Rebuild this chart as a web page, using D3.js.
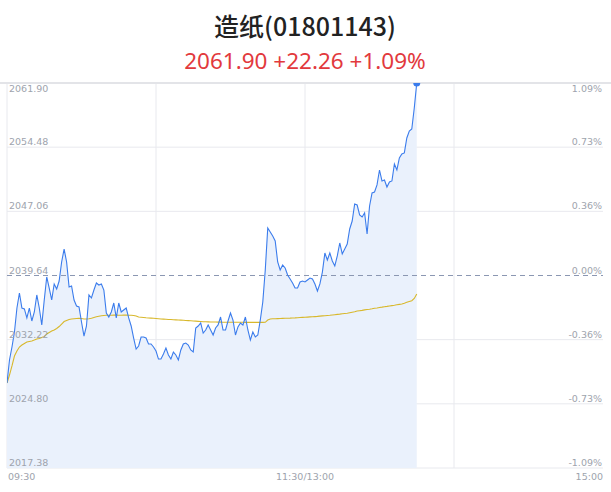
<!DOCTYPE html>
<html>
<head>
<meta charset="utf-8">
<script src="https://cdn.jsdelivr.net/npm/d3@7"></script>
<style>
  html, body { margin: 0; padding: 0; background: #fff; }
  svg { display: block; }
</style>
</head>
<body>
<svg id="chart" width="611" height="492"></svg>
<script>
// Title texts
const titleText = '造纸(01801143)';
const quoteText = '2061.90 +22.26 +1.09%';

// Price scale
const prevClose = 2039.64;
const priceTicks = [2061.90, 2054.48, 2047.06, 2039.64, 2032.22, 2024.80, 2017.38];
const pctTicks = ['1.09%', '0.73%', '0.36%', '0.00%', '-0.36%', '-0.73%', '-1.09%'];

// Time axis (minutes since 09:30, lunch break removed)
const totalMinutes = 240;
const timeTicks = [0, 120, 240];
const timeLabels = ['09:30', '11:30/13:00', '15:00'];
const gridMinutes = [0, 60, 120, 180];

// Minute prices
const prices = [
  2027.21, 2029.87, 2031.37, 2033.11, 2035.88, 2037.62, 2035.88, 2035.77, 2034.73, 2035.88,
  2034.38, 2035.42, 2037.39, 2035.88, 2033.92, 2036.81, 2039.47, 2038.19, 2036.81, 2038.66,
  2038.08, 2039.00, 2041.20, 2042.70, 2041.20, 2038.31, 2038.43, 2036.81, 2036.11, 2036.00,
  2034.26, 2032.64, 2033.80, 2037.39, 2037.04, 2037.96, 2038.77, 2038.54, 2038.66, 2037.96,
  2035.30, 2034.84, 2035.42, 2036.46, 2034.73, 2036.46, 2035.42, 2035.65, 2035.88, 2034.73,
  2033.80, 2032.41, 2031.14, 2031.49, 2032.53, 2032.53, 2032.41, 2031.72, 2031.72, 2031.37,
  2030.91, 2029.98, 2029.98, 2030.56, 2031.26, 2030.45, 2029.98, 2030.79, 2030.45, 2029.87,
  2031.03, 2031.72, 2031.83, 2031.60, 2031.03, 2030.79, 2033.57, 2033.80, 2034.15, 2032.99,
  2033.34, 2033.92, 2033.34, 2032.76, 2033.57, 2033.92, 2034.84, 2033.34, 2033.34, 2034.38,
  2035.30, 2034.49, 2032.76, 2033.69, 2034.15, 2033.92, 2034.84, 2033.34, 2032.18, 2033.11,
  2032.53, 2032.76, 2034.49, 2036.58, 2040.28, 2045.13, 2044.67, 2044.21, 2043.63, 2041.20,
  2040.28, 2040.85, 2040.51, 2039.70, 2039.24, 2038.77, 2038.19, 2038.19, 2038.89, 2039.00,
  2038.89, 2039.12, 2039.35, 2039.24, 2038.66, 2037.85, 2038.66, 2040.04, 2042.24, 2041.43,
  2042.24, 2041.32, 2040.74, 2041.90, 2043.40, 2042.13, 2042.70, 2043.28, 2045.02, 2045.94,
  2047.91, 2047.79, 2046.64, 2046.40, 2046.87, 2044.44, 2047.68, 2049.18, 2049.30, 2050.11,
  2051.84, 2050.57, 2050.68, 2049.87, 2050.45, 2050.57, 2052.53, 2051.84, 2053.23, 2053.69,
  2053.81, 2055.54, 2056.35, 2056.58, 2059.01, 2061.90
];

// Minute average prices
const averages = [
  2027.21, 2028.13, 2029.18, 2030.33, 2030.91, 2031.37, 2031.60, 2031.78, 2031.95, 2032.01,
  2032.07, 2032.18, 2032.30, 2032.36, 2032.47, 2032.59, 2032.88, 2033.05, 2033.22, 2033.34,
  2033.51, 2033.74, 2034.03, 2034.32, 2034.44, 2034.55, 2034.61, 2034.64, 2034.67, 2034.69,
  2034.67, 2034.61, 2034.61, 2034.64, 2034.69, 2034.78, 2034.86, 2034.92, 2034.98, 2035.01,
  2035.04, 2035.04, 2035.05, 2035.06, 2035.06, 2035.05, 2035.05, 2035.06, 2035.06, 2035.05,
  2035.04, 2035.02, 2034.96, 2034.84, 2034.81, 2034.78, 2034.75, 2034.73, 2034.71, 2034.69,
  2034.67, 2034.64, 2034.61, 2034.60, 2034.58, 2034.56, 2034.55, 2034.53, 2034.51, 2034.49,
  2034.48, 2034.46, 2034.44, 2034.42, 2034.40, 2034.38, 2034.36, 2034.34, 2034.32, 2034.30,
  2034.29, 2034.28, 2034.27, 2034.26, 2034.26, 2034.25, 2034.25, 2034.24, 2034.24, 2034.24,
  2034.23, 2034.23, 2034.23, 2034.23, 2034.23, 2034.23, 2034.22, 2034.22, 2034.22, 2034.22,
  2034.22, 2034.22, 2034.22, 2034.22, 2034.23, 2034.49, 2034.61, 2034.63, 2034.64, 2034.65,
  2034.66, 2034.68, 2034.69, 2034.70, 2034.71, 2034.73, 2034.74, 2034.76, 2034.78, 2034.80,
  2034.81, 2034.83, 2034.85, 2034.87, 2034.89, 2034.91, 2034.94, 2034.97, 2034.99, 2035.02,
  2035.04, 2035.08, 2035.11, 2035.14, 2035.17, 2035.21, 2035.24, 2035.27, 2035.33, 2035.39,
  2035.45, 2035.53, 2035.57, 2035.61, 2035.66, 2035.70, 2035.74, 2035.79, 2035.85, 2035.89,
  2035.94, 2035.98, 2036.03, 2036.07, 2036.12, 2036.16, 2036.20, 2036.25, 2036.30, 2036.35,
  2036.44, 2036.54, 2036.64, 2036.73, 2036.98, 2037.50
];

const svg = d3.select('#chart');
const plot = { left: 7, right: 603, top: 83, bottom: 468 };

const x = d3.scaleLinear().domain([0, totalMinutes]).range([plot.left, plot.right]);
const y = d3.scaleLinear()
  .domain([priceTicks[priceTicks.length - 1], priceTicks[0]])
  .range([plot.bottom, plot.top]);

// Header
svg.append('text')
  .attr('x', 305).attr('y', 36)
  .attr('text-anchor', 'middle')
  .attr('font-family', '"Noto Sans CJK SC", "Noto Sans", sans-serif')
  .attr('font-size', 25).attr('font-weight', 500)
  .attr('fill', '#222')
  .text(titleText);

svg.append('text')
  .attr('x', 305).attr('y', 69)
  .attr('text-anchor', 'middle')
  .attr('font-family', '"Noto Sans", sans-serif')
  .attr('font-size', 22.5)
  .attr('fill', '#e2393d')
  .text(quoteText);

// Grid
const grid = svg.append('g');
grid.selectAll('line.h')
  .data(priceTicks.filter(v => v !== prevClose))
  .enter().append('line')
  .attr('x1', plot.left).attr('x2', plot.right)
  .attr('y1', d => y(d)).attr('y2', d => y(d))
  .attr('stroke', '#e8e9ee').attr('stroke-width', 1);

grid.selectAll('line.v')
  .data(gridMinutes)
  .enter().append('line')
  .attr('x1', d => x(d)).attr('x2', d => x(d))
  .attr('y1', plot.top).attr('y2', plot.bottom)
  .attr('stroke', '#e8e9ee').attr('stroke-width', 1);

// top border
svg.append('line')
  .attr('x1', 0).attr('x2', 611)
  .attr('y1', plot.top).attr('y2', plot.top)
  .attr('stroke', '#e3e4e8').attr('stroke-width', 2);

// Area + lines
svg.append('clipPath').attr('id', 'plotclip')
  .append('rect')
  .attr('x', plot.left).attr('y', plot.top)
  .attr('width', plot.right - plot.left).attr('height', plot.bottom - plot.top);

const g = svg.append('g').attr('clip-path', 'url(#plotclip)');

const area = d3.area()
  .x((d, i) => x(i))
  .y0(plot.bottom)
  .y1(d => y(d));

g.append('path')
  .datum(prices)
  .attr('d', area)
  .attr('fill', '#eaf1fc');

// previous close
g.append('line')
  .attr('x1', plot.left).attr('x2', plot.right)
  .attr('y1', y(prevClose)).attr('y2', y(prevClose))
  .attr('stroke', '#8b97b2').attr('stroke-width', 1)
  .attr('stroke-dasharray', '5,4');

const line = d3.line().x((d, i) => x(i)).y(d => y(d));

g.append('path')
  .datum(averages)
  .attr('d', line)
  .attr('fill', 'none')
  .attr('stroke', '#d8b82c')
  .attr('stroke-width', 1.1);

g.append('path')
  .datum(prices)
  .attr('d', line)
  .attr('fill', 'none')
  .attr('stroke', '#3b7cec')
  .attr('stroke-width', 1.1);

const last = prices.length - 1;
g.append('circle')
  .attr('cx', x(last)).attr('cy', y(prices[last]))
  .attr('r', 3.5)
  .attr('fill', '#3b7cec');

// Axis labels
const labelFont = '"DejaVu Sans", sans-serif';
const labelColor = '#9ea3ad';

function labelY(v, i) {
  return i === 0 ? y(v) + 9 : y(v) - 2;
}

svg.append('g').selectAll('text')
  .data(priceTicks)
  .enter().append('text')
  .attr('x', 9)
  .attr('y', (d, i) => labelY(d, i))
  .attr('font-family', labelFont).attr('font-size', 9.5)
  .attr('fill', labelColor)
  .text(d => d.toFixed(2));

svg.append('g').selectAll('text')
  .data(pctTicks)
  .enter().append('text')
  .attr('x', 602)
  .attr('y', (d, i) => labelY(priceTicks[i], i))
  .attr('text-anchor', 'end')
  .attr('font-family', labelFont).attr('font-size', 9.5)
  .attr('fill', labelColor)
  .text(d => d);

svg.append('g').selectAll('text')
  .data(timeTicks)
  .enter().append('text')
  .attr('x', d => d === 0 ? x(d) + 1 : x(d))
  .attr('y', 480)
  .attr('text-anchor', (d, i) => i === 0 ? 'start' : i === timeTicks.length - 1 ? 'end' : 'middle')
  .attr('font-family', labelFont).attr('font-size', 9.5)
  .attr('fill', labelColor)
  .text((d, i) => timeLabels[i]);
</script>
</body>
</html>
